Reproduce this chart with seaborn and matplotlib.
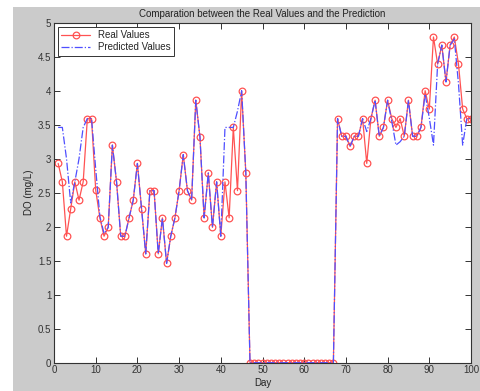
import matplotlib
matplotlib.use("Agg")
import matplotlib.pyplot as plt
import seaborn as sns
import pandas as pd
from matplotlib.patches import Rectangle

days = list(range(1, 101))

real_values = [2.93, 2.66, 1.86, 2.26, 2.66, 2.39, 2.66, 3.59, 3.59, 2.54,
               2.13, 1.86, 1.99, 3.20, 2.66, 1.86, 1.86, 2.13, 2.39, 2.93,
               2.26, 1.60, 2.53, 2.53, 1.60, 2.13, 1.46, 1.86, 2.13, 2.53,
               3.06, 2.53, 2.39, 3.86, 3.32, 2.13, 2.79, 1.99, 2.66, 1.86,
               2.66, 2.13, 3.46, 2.53, 3.99, 2.79,
               0, 0, 0, 0, 0, 0, 0, 0, 0, 0, 0, 0, 0, 0, 0, 0, 0, 0, 0, 0, 0,
               3.59, 3.33, 3.33, 3.18, 3.33, 3.33, 3.59, 2.93, 3.59, 3.86,
               3.33, 3.46, 3.86, 3.59, 3.46, 3.59, 3.33, 3.86, 3.33, 3.33,
               3.46, 4.00, 3.73, 4.79, 4.39, 4.67, 4.13, 4.67, 4.79, 4.39,
               3.73, 3.59, 3.59]

predicted_values = [3.46, 3.46, 3.00, 2.35, 2.66, 3.00, 3.46, 3.59, 3.59, 2.85,
                    2.15, 1.90, 1.99, 3.20, 2.66, 1.86, 1.86, 2.13, 2.39, 2.93,
                    2.26, 1.60, 2.53, 2.53, 1.60, 2.13, 1.46, 1.86, 2.13, 2.53,
                    3.06, 2.53, 2.39, 3.86, 3.32, 2.13, 2.79, 1.99, 2.66, 1.86,
                    3.46, 3.46, 3.46, 3.70, 4.00, 2.79,
                    0, 0, 0, 0, 0, 0, 0, 0, 0, 0, 0, 0, 0, 0, 0, 0, 0, 0, 0, 0, 0,
                    3.59, 3.33, 3.33, 3.18, 3.33, 3.33, 3.59, 3.40, 3.59, 3.86,
                    3.33, 3.46, 3.86, 3.55, 3.20, 3.25, 3.33, 3.86, 3.33, 3.33,
                    3.46, 3.95, 3.60, 3.20, 4.40, 4.67, 4.13, 4.67, 4.76, 4.10,
                    3.20, 3.59, 3.59]

title = "Comparation between the Real Values and the Prediction"
x_label = "Day"
y_label = "DO (mg/L)"
x_ticks = [0, 10, 20, 30, 40, 50, 60, 70, 80, 90, 100]
y_ticks = [0, 0.5, 1, 1.5, 2, 2.5, 3, 3.5, 4, 4.5, 5]
y_tick_labels = ["0", "0.5", "1", "1.5", "2", "2.5", "3", "3.5", "4", "4.5", "5"]

df = pd.DataFrame({"Day": days, "Real": real_values, "Pred": predicted_values})

sns.set_style("ticks")
plt.rcParams["font.family"] = ["Liberation Sans", "DejaVu Sans"]

fig = plt.figure(figsize=(4.81, 3.91), dpi=100, facecolor="#cbcbcb")
# white strips of screenshot border
fig.patches.append(Rectangle((0, 0), 13 / 481, 1, transform=fig.transFigure,
                             facecolor="white", edgecolor="none", zorder=-1))
fig.patches.append(Rectangle((0, 1 - 7 / 391), 1, 7 / 391, transform=fig.transFigure,
                             facecolor="white", edgecolor="none", zorder=-1))

ax = fig.add_axes([54 / 481, 1 - 362.7 / 391, (471 - 54) / 481, (362.7 - 22.7) / 391])
ax.set_facecolor("white")

red = "#ff5252"
blue = "#4f4fff"

sns.lineplot(data=df, x="Day", y="Real", ax=ax, color=red, linewidth=0.9,
             marker="o", markersize=4.8, markerfacecolor="none",
             markeredgecolor=red, markeredgewidth=0.9, label="Real Values")
sns.lineplot(data=df, x="Day", y="Pred", ax=ax, color=blue, linewidth=0.9,
             linestyle="-.", label="Predicted Values")

ax.set_xlim(0, 100)
ax.set_ylim(0, 5)
ax.set_xticks(x_ticks)
ax.set_yticks(y_ticks)
ax.set_yticklabels(y_tick_labels)
ax.tick_params(direction="in", length=4, width=0.7, top=True, right=True,
               labelsize=7, colors="#333333", pad=2)
for s in ax.spines.values():
    s.set_visible(True)
    s.set_linewidth(0.8)
    s.set_color("#333333")

ax.set_title(title, fontsize=7, color="#222222", pad=4)
ax.set_xlabel(x_label, fontsize=7, color="#222222", labelpad=2)
ax.set_ylabel(y_label, fontsize=7, color="#222222", labelpad=3)

leg = ax.legend(loc="upper left", fontsize=7, frameon=True, fancybox=False,
                edgecolor="#333333", framealpha=1, handlelength=3.0,
                borderpad=0.35, labelspacing=0.25, borderaxespad=0.4)
leg.get_frame().set_linewidth(0.7)

fig.savefig("out.png", dpi=100, facecolor=fig.get_facecolor())
